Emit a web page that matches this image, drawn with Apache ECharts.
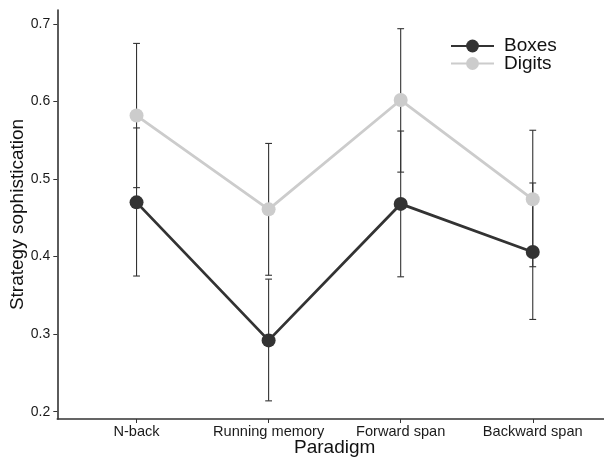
<!DOCTYPE html>
<html>
<head>
<meta charset="utf-8">
<script src="https://cdn.jsdelivr.net/npm/echarts@6/dist/echarts.min.js"></script>
<style>
html,body{margin:0;padding:0;background:#fff;}
#chart{width:604px;height:458px;}
</style>
</head>
<body>
<div id="chart"></div>
<script>
const categories = ['N-back', 'Running memory', 'Forward span', 'Backward span'];
const boxesMean = [0.470, 0.292, 0.468, 0.406];
const boxesLow = [0.375, 0.214, 0.374, 0.319];
const boxesHigh = [0.566, 0.371, 0.562, 0.495];
const digitsMean = [0.582, 0.461, 0.602, 0.474];
const digitsLow = [0.489, 0.376, 0.509, 0.387];
const digitsHigh = [0.675, 0.546, 0.694, 0.563];
const yTicks = [0.2, 0.3, 0.4, 0.5, 0.6, 0.7];
const catPositions = categories.map((c, i) => i);

const FONT = "'Liberation Sans', Arial, sans-serif";
const DARK = '#333333';
const LIGHT = '#cccccc';

const chart = echarts.init(document.getElementById('chart'), null, {renderer: 'canvas'});

function errData(low, high) {
  return low.map((l, i) => [i, l, high[i]]);
}
function renderErr(params, api) {
  const x = api.value(0);
  const lo = api.coord([x, api.value(1)]);
  const hi = api.coord([x, api.value(2)]);
  const w = 3.4;
  const style = {stroke: '#333', lineWidth: 1.1, fill: null};
  return {
    type: 'group',
    children: [
      {type: 'line', shape: {x1: lo[0], y1: lo[1], x2: hi[0], y2: hi[1]}, style: style},
      {type: 'line', shape: {x1: lo[0] - w, y1: lo[1], x2: lo[0] + w, y2: lo[1]}, style: style},
      {type: 'line', shape: {x1: hi[0] - w, y1: hi[1], x2: hi[0] + w, y2: hi[1]}, style: style}
    ]
  };
}

const legendText = {fontFamily: FONT, fontSize: 19, color: '#111', lineHeight: 19, padding: [2, 0, 0, 5]};

const option = {
  animation: false,
  backgroundColor: '#fff',
  grid: {left: 57.3, right: -8, top: 10, bottom: 39, containLabel: false, outerBoundsMode: 'none'},
  legend: [
    {data: ['Boxes'], left: 450, top: 35.5, itemWidth: 43, itemHeight: 16, textStyle: legendText, padding: 0, selectedMode: false},
    {data: ['Digits'], left: 450, top: 53, itemWidth: 43, itemHeight: 16, textStyle: legendText, padding: 0, selectedMode: false}
  ],
  xAxis: {
    type: 'value',
    min: -0.6,
    max: 3.6,
    name: 'Paradigm',
    nameLocation: 'middle',
    nameGap: 19.5,
    nameMoveOverlap: false,
    nameTextStyle: {fontFamily: FONT, fontSize: 19, color: '#111'},
    axisLine: {show: true, onZero: false, lineStyle: {color: DARK, width: 1.6}},
    axisTick: {show: true, customValues: catPositions, length: 4, lineStyle: {color: DARK, width: 1}},
    axisLabel: {
      customValues: catPositions,
      formatter: v => categories[Math.round(v)] || '',
      fontFamily: FONT, fontSize: 14.6, color: '#1a1a1a', margin: 5
    },
    splitLine: {show: false}
  },
  yAxis: {
    type: 'value',
    min: 0.1906,
    max: 0.7181,
    name: 'Strategy sophistication',
    nameLocation: 'middle',
    nameGap: 30,
    nameMoveOverlap: false,
    nameTextStyle: {fontFamily: FONT, fontSize: 19, color: '#111'},
    axisLine: {show: true, onZero: false, lineStyle: {color: DARK, width: 1.6}},
    axisTick: {show: true, customValues: yTicks, length: 4, lineStyle: {color: DARK, width: 1}},
    axisLabel: {
      customValues: yTicks,
      formatter: v => Number(v).toFixed(1),
      fontFamily: FONT, fontSize: 14, color: '#1a1a1a', margin: 7
    },
    splitLine: {show: false}
  },
  series: [
    {
      type: 'custom', name: 'errBoxes', z: 1, silent: true,
      renderItem: renderErr, encode: {x: 0, y: [1, 2]},
      data: errData(boxesLow, boxesHigh)
    },
    {
      type: 'custom', name: 'errDigits', z: 1, silent: true,
      renderItem: renderErr, encode: {x: 0, y: [1, 2]},
      data: errData(digitsLow, digitsHigh)
    },
    {
      type: 'line', name: 'Boxes', z: 3,
      data: boxesMean.map((v, i) => [i, v]),
      symbol: 'circle', symbolSize: 14,
      itemStyle: {color: DARK},
      lineStyle: {color: DARK, width: 2.8}
    },
    {
      type: 'line', name: 'Digits', z: 2,
      data: digitsMean.map((v, i) => [i, v]),
      symbol: 'circle', symbolSize: 14,
      itemStyle: {color: LIGHT},
      lineStyle: {color: LIGHT, width: 2.8}
    }
  ]
};
chart.setOption(option);
</script>
</body>
</html>
